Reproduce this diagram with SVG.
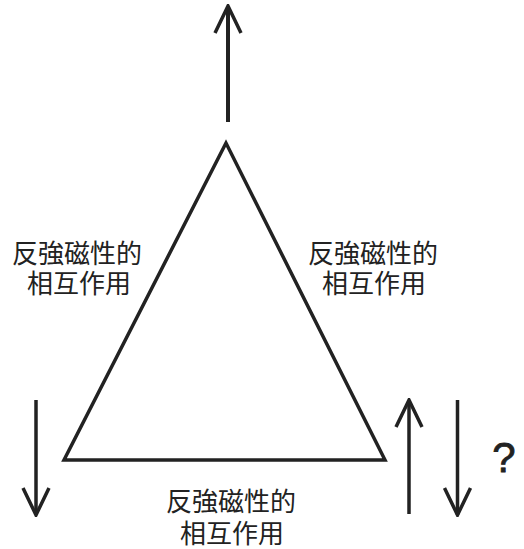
<svg xmlns="http://www.w3.org/2000/svg" width="524" height="549" viewBox="0 0 524 549">
<defs>
<style>
.ln{stroke:#222;stroke-width:3.5;fill:none;stroke-linecap:butt}
.tri{stroke:#222;stroke-width:3.5;fill:none;stroke-linejoin:miter}
.lbl{font-family:"Noto Sans CJK JP","Noto Sans CJK SC",sans-serif;font-size:26px;fill:#222;text-anchor:middle}
.q{font-family:"Liberation Sans",Arial,sans-serif;font-size:42px;fill:#222;text-anchor:middle;stroke:#222;stroke-width:0.8}
</style>
<marker id="ah" viewBox="-30 -16 32 32" markerWidth="32" markerHeight="32" refX="0" refY="0" orient="auto" markerUnits="userSpaceOnUse">
<path d="M-27,-13 L0,0 L-27,13" fill="none" stroke="#222" stroke-width="3.5"/>
</marker>
</defs>
<rect width="524" height="549" fill="#fff"/>
<g id="triangle">
<polygon class="tri" points="226,143 64,460 385,460"/>
</g>
<g id="connectors">
<line class="ln" style="stroke-width:4" x1="228" y1="122" x2="228" y2="6" marker-end="url(#ah)"/>
<line class="ln" x1="36" y1="400" x2="36" y2="515" marker-end="url(#ah)"/>
<line class="ln" x1="409" y1="514" x2="409" y2="400" marker-end="url(#ah)"/>
<line class="ln" x1="457.5" y1="400" x2="457.5" y2="515" marker-end="url(#ah)"/>
</g>
<g id="label-left">
<text class="lbl" x="77" y="263">反強磁性的</text>
<text class="lbl" x="79" y="293">相互作用</text>
</g>
<g id="label-right">
<text class="lbl" x="373" y="263">反強磁性的</text>
<text class="lbl" x="374" y="293">相互作用</text>
</g>
<g id="label-bottom">
<text class="lbl" x="231" y="511">反強磁性的</text>
<text class="lbl" x="232" y="543">相互作用</text>
</g>
<g id="question">
<text class="q" x="504" y="472">?</text>
</g>
</svg>
